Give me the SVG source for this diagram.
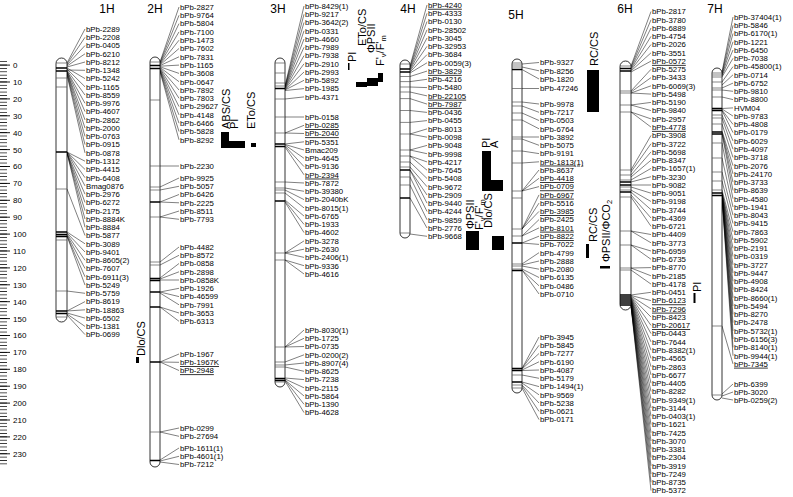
<svg xmlns="http://www.w3.org/2000/svg" width="793" height="497" viewBox="0 0 793 497">
<style>
.lb{font-family:"Liberation Sans",Arial,sans-serif;font-size:7.8px;fill:#000}
.ul{text-decoration:underline}
.ttl{font-family:"Liberation Sans",Arial,sans-serif;font-size:12px;text-anchor:middle}
.ax{font-family:"Liberation Sans",Arial,sans-serif;font-size:8px}
.q{font-family:"Liberation Sans",Arial,sans-serif;font-size:11px}
.sb{font-size:7.5px}
.chr{fill:#fff;stroke:#000;stroke-width:0.8}
.bd{fill:none;stroke:#555;stroke-width:0.7}
.bk{fill:none;stroke:#000;stroke-width:1.6}
.cn{fill:none;stroke:#000;stroke-width:0.5}
.qb{fill:#000}
</style>
<defs>
<pattern id="tkm" patternUnits="userSpaceOnUse" x="0" y="64.6" width="12" height="3.38"><rect x="0" y="0" width="7" height="0.7" fill="#000"/></pattern>
<pattern id="tkM" patternUnits="userSpaceOnUse" x="0" y="64.6" width="12" height="16.9"><rect x="0" y="0" width="10" height="0.9" fill="#000"/></pattern>
</defs>
<rect width="793" height="497" fill="#fff"/>
<g id="axis">
<rect x="0" y="61" width="7" height="404" fill="url(#tkm)"/>
<rect x="0" y="64" width="10" height="400" fill="url(#tkM)"/>
<text class="ax" x="13" y="68">0</text><text class="ax" x="13" y="84.9">10</text><text class="ax" x="13" y="101.8">20</text><text class="ax" x="13" y="118.7">30</text><text class="ax" x="13" y="135.6">40</text><text class="ax" x="13" y="152.5">50</text><text class="ax" x="13" y="169.4">60</text><text class="ax" x="13" y="186.3">70</text><text class="ax" x="13" y="203.2">80</text><text class="ax" x="13" y="220.1">90</text><text class="ax" x="13" y="237">100</text><text class="ax" x="13" y="253.9">110</text><text class="ax" x="13" y="270.8">120</text><text class="ax" x="13" y="287.7">130</text><text class="ax" x="13" y="304.6">140</text><text class="ax" x="13" y="321.5">150</text><text class="ax" x="13" y="338.4">160</text><text class="ax" x="13" y="355.3">170</text><text class="ax" x="13" y="372.2">180</text><text class="ax" x="13" y="389.1">190</text><text class="ax" x="13" y="406">200</text><text class="ax" x="13" y="422.9">210</text><text class="ax" x="13" y="439.8">220</text><text class="ax" x="13" y="456.7">230</text>
</g>
<g id="connectors">
<path class="cn" d="M67 63L85 29M67 64L85 37.3M67 65L85 45.5M67 66L85 53.8M67 67L85 62M67 70L85 70.3M67 68L85 78.6M67 69L85 86.8M67 70L85 95.1M67 71L85 103.3M67 71L85 111.6M67 72L85 119.9M67 72L85 128.1M67 73L85 136.4M67 74L85 144.6M67 75L85 152.9M67 152L85 161.2M67 152L85 169.4M67 152L85 177.7M67 152L85 185.9M67 153L85 194.2M67 153L85 202.5M67 153L85 210.7M67 153L85 219M67 153L85 227.2M67 189L85 235.5M67 232L85 243.8M67 233L85 252M67 234L85 260.3M67 235L85 268.5M67 236L85 276.8M67 236L85 285.1M67 291L85 293.3M67 311L85 301.6M67 311L85 309.8M67 313L85 318.1M67 314L85 326.4M67 315L85 334.6"/>
<path class="cn" d="M160 62L179 7M160 62.6L179 15.3M160 63.2L179 23.6M160 63.8L179 31.9M160 64.4L179 40.2M160 65L179 48.5M160 65.6L179 56.8M160 66.2L179 65.1M160 66.8L179 73.4M160 67.4L179 81.7M160 68L179 90M160 68.6L179 98.3M160 69.2L179 106.6M160 69.8L179 114.9M160 70.4L179 123.2M160 71L179 131.5M160 71.6L179 139.8M160 166L179 166M160 187L179 178M160 190L179 186.3M160 202L179 194.5M160 202L179 202.8M160 217L179 211M160 217L179 219.3M160 262L179 247M160 265L179 255.3M160 278L179 263.5M160 279L179 271.8M160 280L179 280M160 292L179 288.3M160 292L179 296.6M160 293L179 304.8M160 307L179 313M160 307L179 321.3M160 362L179 354M160 362L179 362.3M160 362L179 370.5M160 432L179 428M160 432L179 436.3M160 460L179 448M160 461L179 456.3M160 462L179 464.5"/>
<path class="cn" d="M285 86L304 6M285 86.5L304 14.3M285 87L304 22.5M285 87.5L304 30.8M285 88L304 39M285 88.5L304 47.3M285 89L304 55.6M285 89.5L304 63.8M285 90L304 72M285 90L304 80.3M285 90.5L304 88.6M285 99L304 96.9M285 117L304 117M285 133L304 125.3M285 133L304 133.5M285 144L304 141.8M285 144.5L304 150M285 145L304 158.3M285 146L304 166.6M285 147L304 174.8M285 182L304 183M285 188L304 191.3M285 190L304 199.6M285 193L304 207.9M285 200L304 216.1M285 201L304 224.4M285 202L304 232.6M285 253L304 240.9M285 253L304 249.2M285 253L304 257.4M285 260L304 265.7M285 260L304 274M285 347L304 330M285 347L304 338.3M285 347L304 346.5M285 362L304 354.8M285 365L304 363M285 367L304 371.3M285 378L304 379.6M285 379L304 387.8M285 380L304 396M285 380L304 404.3M285 381L304 412.6"/>
<path class="cn" d="M410 66L427 5M410 67L427 13.3M410 68L427 21.5M410 69L427 29.8M410 70L427 38M410 71L427 46.3M410 72L427 54.6M410 73L427 62.8M410 76.5L427 71.1M410 81.6L427 79.3M410 87L427 87.6M410 92L427 95.9M410 98.6L427 104.1M410 110.5L427 112.4M410 122.4L427 120.6M410 134L427 128.9M410 134L427 137.2M410 150L427 145.4M410 150L427 153.7M410 156L427 161.9M410 156L427 170.2M410 162L427 178.5M410 167L427 186.7M410 170L427 195M410 170L427 203.2M410 177L427 211.5M410 185L427 219.8M410 198L427 228M410 234L427 236.3"/>
<path class="cn" d="M522 64L539 62.5M522 67L539 70.8M522 69.5L539 79M522 88.5L539 88.5M522 102L539 104M522 106L539 112.3M522 113L539 120.5M522 120L539 128.8M522 137L539 137M522 139L539 145.3M522 151L539 153.6M522 163L539 161.8M522 191L539 170M522 191L539 178.3M522 191L539 186.6M522 229L539 194.9M522 229L539 203.1M522 229L539 211.4M522 236L539 219.6M522 236L539 227.9M522 243L539 236.2M522 243L539 244.4M522 264L539 252.7M522 265L539 261M522 266L539 269.2M522 269L539 277.5M522 270L539 285.8M522 270L539 294M522 368.5L539 337M522 368.5L539 345.3M522 369L539 353.5M522 370L539 361.8M522 370.5L539 370M522 375L539 378.3M522 382L539 386.6M522 383L539 394.8M522 385L539 403M522 386L539 411.4M522 388L539 419.6"/>
<path class="cn" d="M631 66L651 11.5M631 67L651 19.8M631 68L651 28M631 69L651 36.3M631 70L651 44.5M631 71L651 52.8M631 72L651 61.1M631 91L651 69.3M631 92L651 77.6M631 93L651 85.8M631 93L651 94.1M631 105L651 102.4M631 105L651 110.6M631 112L651 118.9M631 112L651 127.1M631 170L651 135.4M631 172L651 143.7M631 175L651 151.9M631 177L651 160.2M631 180L651 168.4M631 182L651 176.7M631 185L651 185M631 187L651 193.2M631 190L651 201.5M631 192L651 209.7M631 195L651 218M631 197L651 226.3M631 231L651 234.5M631 231L651 242.8M631 245L651 251M631 245L651 259.3M631 268L651 267.6M631 268L651 275.8M631 270L651 284.1M631 295L651 292.3M631 295.5L651 300.6M631 296L651 308.9M631 296.5L651 317.1M631 297L651 325.4M631 297.5L651 333.6M631 298L651 341.9M631 298.5L651 350.2M631 299L651 358.4M631 299.5L651 366.7M631 300L651 374.9M631 300.5L651 383.2M631 301L651 391.5M631 301.5L651 399.7M631 302L651 408M631 302.5L651 416.2M631 303L651 424.5M631 303.5L651 432.8M631 304L651 441M631 304.5L651 449.3M631 305L651 457.5M631 305L651 465.8M631 305.5L651 474.1M631 305.5L651 482.3M631 306L651 490.6"/>
<path class="cn" d="M722 72L733 17M722 73L733 25.3M722 74L733 33.5M722 75L733 41.8M722 76L733 50M722 77L733 58.3M722 82L733 66.6M722 85L733 74.8M722 88L733 83.1M722 90L733 91.3M722 97L733 99.6M722 108.5L733 107.9M722 109L733 116.1M722 110L733 124.4M722 110.5L733 132.6M722 115L733 140.9M722 118L733 149.2M722 124L733 157.4M722 131L733 165.7M722 132L733 173.9M722 133L733 182.2M722 134L733 190.5M722 143L733 198.7M722 158L733 207M722 172L733 215.2M722 181L733 223.5M722 190L733 231.8M722 192L733 240M722 192.5L733 248.3M722 193L733 256.5M722 193.5L733 264.8M722 194L733 273.1M722 194.5L733 281.3M722 195L733 289.6M722 195.5L733 297.8M722 196L733 306.1M722 196L733 314.4M722 196.5L733 322.6M722 196.5L733 330.9M722 197L733 339.1M722 197L733 347.4M722 197.5L733 355.7M722 326L733 363.9M722 394L733 384M722 396L733 392M722 398L733 400"/>
</g>
<g id="chr1H">
<text class="ttl" x="107" y="12.5">1H</text>
<rect class="chr" x="56" y="58" width="11" height="264" rx="5.5" ry="5.5"/>
<path class="bd" d="M56 63h11M56 78h11M56 87h11M56 189h11M56 240h11M56 291h11M56 317h11"/>
<path class="bk" d="M56 68h11M56 71h11M56 152h11M56 232h11M56 234.5h11M56 236.5h11M56 311h11M56 313.5h11"/>
<text class="lb"><tspan x="86" y="31.8">bPb-2289</tspan><tspan x="86" y="40.1">bPb-2208</tspan><tspan x="86" y="48.3">bPb-0405</tspan><tspan x="86" y="56.6">bPb-6210</tspan><tspan x="86" y="64.8">bPb-8212</tspan><tspan x="86" y="73.1">bPb-1348</tspan><tspan x="86" y="81.4">bPb-5242</tspan><tspan x="86" y="89.6">bPb-1165</tspan><tspan x="86" y="97.9">bPb-8559</tspan><tspan x="86" y="106.1">bPb-9976</tspan><tspan x="86" y="114.4">bPb-4607</tspan><tspan x="86" y="122.7">bPb-2862</tspan><tspan x="86" y="130.9">bPb-2000</tspan><tspan x="86" y="139.2">bPb-0763</tspan><tspan x="86" y="147.4">bPb-0915</tspan><tspan x="86" y="155.7">bPb-0878</tspan><tspan x="86" y="164">bPb-1312</tspan><tspan x="86" y="172.2">bPb-4415</tspan><tspan x="86" y="180.5">bPb-6408</tspan><tspan x="86" y="188.7">Bmag0876</tspan><tspan x="86" y="197">bPb-2976</tspan><tspan x="86" y="205.3">bPb-6272</tspan><tspan x="86" y="213.5">bPb-2175</tspan><tspan x="86" y="221.8">bPb-8884K</tspan><tspan x="86" y="230">bPb-8884</tspan><tspan x="86" y="238.3">bPb-5877</tspan><tspan x="86" y="246.6">bPb-3089</tspan><tspan x="86" y="254.8">bPb-9401</tspan><tspan x="86" y="263.1">bPb-8605(2)</tspan><tspan x="86" y="271.3">bPb-7607</tspan><tspan x="86" y="279.6">bPb-6911(3)</tspan><tspan x="86" y="287.9">bPb-5249</tspan><tspan x="86" y="296.1">bPb-5759</tspan><tspan x="86" y="304.4">bPb-8619</tspan><tspan x="86" y="312.6">bPb-18863</tspan><tspan x="86" y="320.9">bPb-6502</tspan><tspan x="86" y="329.2">bPb-1381</tspan><tspan x="86" y="337.4">bPb-0699</tspan></text>
</g>
<g id="chr2H">
<text class="ttl" x="155" y="12.5">2H</text>
<rect class="chr" x="150" y="57" width="10" height="410" rx="5" ry="5"/>
<path class="bd" d="M150 62h10M150 100h10M150 166h10M150 187h10M150 190h10M150 217h10M150 262h10M150 265h10M150 432h10"/>
<path class="bk" d="M150 65.5h10M150 68.5h10M150 202h10M150 278.5h10M150 280.5h10M150 292h10M150 307h10M150 362h10M150 460.5h10"/>
<text class="lb"><tspan x="180" y="9.8">bPb-2827</tspan><tspan x="180" y="18.1">bPb-9764</tspan><tspan x="180" y="26.4">bPb-5804</tspan><tspan x="180" y="34.7">bPb-7100</tspan><tspan x="180" y="43">bPb-1473</tspan><tspan x="180" y="51.3">bPb-7602</tspan><tspan x="180" y="59.6">bPb-7831</tspan><tspan x="180" y="67.9">bPb-1165</tspan><tspan x="180" y="76.2">bPb-3608</tspan><tspan x="180" y="84.5">bPb-0647</tspan><tspan x="180" y="92.8">bPb-7892</tspan><tspan x="180" y="101.1">bPb-7803</tspan><tspan x="180" y="109.4">bPb-29627</tspan><tspan x="180" y="117.7">bPb-4148</tspan><tspan x="180" y="126">bPb-6466</tspan><tspan x="180" y="134.3">bPb-5828</tspan><tspan x="180" y="142.6">bPb-8292</tspan><tspan x="180" y="168.8">bPb-2230</tspan><tspan x="180" y="180.8">bPb-9925</tspan><tspan x="180" y="189.1">bPb-5057</tspan><tspan x="180" y="197.3">bPb-6426</tspan><tspan x="180" y="205.6">bPb-2225</tspan><tspan x="180" y="213.8">bPb-8511</tspan><tspan x="180" y="222.1">bPb-7793</tspan><tspan x="180" y="249.8">bPb-4482</tspan><tspan x="180" y="258.1">bPb-8572</tspan><tspan x="180" y="266.3">bPb-0858</tspan><tspan x="180" y="274.6">bPb-2898</tspan><tspan x="180" y="282.8">bPb-0858K</tspan><tspan x="180" y="291.1">bPb-1926</tspan><tspan x="180" y="299.4">bPb-46599</tspan><tspan x="180" y="307.6">bPb-7991</tspan><tspan x="180" y="315.8">bPb-3653</tspan><tspan x="180" y="324.1">bPb-6313</tspan><tspan x="180" y="356.8">bPb-1967</tspan><tspan x="180" y="365.1" class="ul">bPb-1967K</tspan><tspan x="180" y="373.3" class="ul">bPb-2948</tspan><tspan x="180" y="430.8">bPb-0299</tspan><tspan x="180" y="439.1">bPb-27694</tspan><tspan x="180" y="450.8">bPb-1611(1)</tspan><tspan x="180" y="459.1">bPb-4601(1)</tspan><tspan x="180" y="467.3">bPb-7212</tspan></text>
</g>
<g id="chr3H">
<text class="ttl" x="278" y="12.5">3H</text>
<rect class="chr" x="275" y="58" width="10" height="329" rx="5" ry="5"/>
<path class="bd" d="M275 63h10M275 73h10M275 83h10M275 86h10M275 99h10M275 117h10M275 133h10M275 182h10M275 188h10M275 190h10M275 193h10M275 253h10M275 260h10M275 347h10M275 362h10M275 365h10M275 367h10M275 382h10"/>
<path class="bk" d="M275 88.5h10M275 144h10M275 146.5h10M275 201h10M275 378.5h10M275 380.5h10"/>
<text class="lb"><tspan x="305" y="8.8">bPb-8429(1)</tspan><tspan x="305" y="17.1">bPb-9217</tspan><tspan x="305" y="25.3">bPb-3642(2)</tspan><tspan x="305" y="33.6">bPb-0331</tspan><tspan x="305" y="41.8">bPb-4660</tspan><tspan x="305" y="50.1">bPb-7989</tspan><tspan x="305" y="58.4">bPb-7938</tspan><tspan x="305" y="66.6">bPb-2910</tspan><tspan x="305" y="74.8">bPb-2993</tspan><tspan x="305" y="83.1">bPb-5892</tspan><tspan x="305" y="91.4">bPb-1985</tspan><tspan x="305" y="99.7">bPb-4371</tspan><tspan x="305" y="119.8">bPb-0158</tspan><tspan x="305" y="128.1" class="ul">bPb-0285</tspan><tspan x="305" y="136.3" class="ul">bPb-2040</tspan><tspan x="305" y="144.6">bPb-5351</tspan><tspan x="305" y="152.8">Bmac209</tspan><tspan x="305" y="161.1">bPb-4645</tspan><tspan x="305" y="169.4">bPb-9136</tspan><tspan x="305" y="177.6" class="ul">bPb-2394</tspan><tspan x="305" y="185.8">bPb-7872</tspan><tspan x="305" y="194.1">bPb-39380</tspan><tspan x="305" y="202.4">bPb-2040bK</tspan><tspan x="305" y="210.7">bPb-8015(1)</tspan><tspan x="305" y="218.9">bPb-6765</tspan><tspan x="305" y="227.2">bPb-1933</tspan><tspan x="305" y="235.4">bPb-4602</tspan><tspan x="305" y="243.7">bPb-3278</tspan><tspan x="305" y="252">bPb-2630</tspan><tspan x="305" y="260.2">bPb-2406(1)</tspan><tspan x="305" y="268.5">bPb-9336</tspan><tspan x="305" y="276.8">bPb-4616</tspan><tspan x="305" y="332.8">bPb-8030(1)</tspan><tspan x="305" y="341.1">bPb-1725</tspan><tspan x="305" y="349.3">bPb-0735</tspan><tspan x="305" y="357.6">bPb-0200(2)</tspan><tspan x="305" y="365.8">bPb-8907(4)</tspan><tspan x="305" y="374.1">bPb-8625</tspan><tspan x="305" y="382.4">bPb-7238</tspan><tspan x="305" y="390.6">bPb-2115</tspan><tspan x="305" y="398.8">bPb-5864</tspan><tspan x="305" y="407.1">bPb-1390</tspan><tspan x="305" y="415.4">bPb-4628</tspan></text>
</g>
<g id="chr4H">
<text class="ttl" x="408" y="12.5">4H</text>
<rect class="chr" x="400" y="60" width="10" height="178" rx="5" ry="5"/>
<path class="bd" d="M400 64h10M400 76.5h10M400 81.6h10M400 87h10M400 92h10M400 98.6h10M400 110.5h10M400 122.4h10M400 134h10M400 150h10M400 156h10M400 162h10M400 167h10M400 177h10M400 185h10M400 233h10"/>
<path class="bk" d="M400 69h10M400 72h10M400 170h10M400 198h10"/>
<text class="lb"><tspan x="428" y="7.8" class="ul">bPb-4240</tspan><tspan x="428" y="16.1">bPb-4333</tspan><tspan x="428" y="24.3">bPb-0130</tspan><tspan x="428" y="32.6">bPb-28502</tspan><tspan x="428" y="40.8">bPb-3045</tspan><tspan x="428" y="49.1">bPb-32953</tspan><tspan x="428" y="57.4">bPb-3684</tspan><tspan x="428" y="65.6">bPb-0059(3)</tspan><tspan x="428" y="73.9" class="ul">bPb-3829</tspan><tspan x="428" y="82.1">bPb-4216</tspan><tspan x="428" y="90.4">bPb-5480</tspan><tspan x="428" y="98.7" class="ul">bPb-22105</tspan><tspan x="428" y="106.9" class="ul">bPb-7987</tspan><tspan x="428" y="115.2">bPb-0436</tspan><tspan x="428" y="123.4">bPb-0455</tspan><tspan x="428" y="131.7">bPb-8013</tspan><tspan x="428" y="140">bPb-0098</tspan><tspan x="428" y="148.2">bPb-9048</tspan><tspan x="428" y="156.5">bPb-9998</tspan><tspan x="428" y="164.7">bPb-4217</tspan><tspan x="428" y="173">bPb-7645</tspan><tspan x="428" y="181.3">bPb-5408</tspan><tspan x="428" y="189.5">bPb-9672</tspan><tspan x="428" y="197.8">bPb-2909</tspan><tspan x="428" y="206">bPb-9440</tspan><tspan x="428" y="214.3">bPb-4244</tspan><tspan x="428" y="222.6">bPb-9859</tspan><tspan x="428" y="230.8">bPb-2776</tspan><tspan x="428" y="239.1">bPb-9668</tspan></text>
</g>
<g id="chr5H">
<text class="ttl" x="516" y="18.5">5H</text>
<rect class="chr" x="512" y="59" width="10" height="334" rx="5" ry="5"/>
<path class="bd" d="M512 63h10M512 65h10M512 67h10M512 88.5h10M512 102h10M512 106h10M512 113h10M512 120h10M512 137h10M512 139h10M512 151h10M512 163h10M512 191h10M512 198h10M512 229h10M512 236h10M512 264h10M512 266h10M512 269h10M512 375h10M512 385h10M512 388h10"/>
<path class="bk" d="M512 69.5h10M512 243h10M512 270.5h10M512 368.5h10M512 370.5h10M512 382h10"/>
<text class="lb"><tspan x="540" y="65.3">bPb-9327</tspan><tspan x="540" y="73.6">bPb-8256</tspan><tspan x="540" y="81.8">bPb-1820</tspan><tspan x="540" y="91.3">bPb-47246</tspan><tspan x="540" y="106.8">bPb-9978</tspan><tspan x="540" y="115.1">bPb-7217</tspan><tspan x="540" y="123.3">bPb-0503</tspan><tspan x="540" y="131.6">bPb-6764</tspan><tspan x="540" y="139.8">bPb-3892</tspan><tspan x="540" y="148.1">bPb-5075</tspan><tspan x="540" y="156.4">bPb-9191</tspan><tspan x="540" y="164.6" class="ul">bPb-1813(1)</tspan><tspan x="540" y="172.8">bPb-8637</tspan><tspan x="540" y="181.1" class="ul">bPb-4418</tspan><tspan x="540" y="189.4" class="ul">bPb-0709</tspan><tspan x="540" y="197.7" class="ul">bPb-6967</tspan><tspan x="540" y="205.9">bPb-5516</tspan><tspan x="540" y="214.2" class="ul">bPb-3985</tspan><tspan x="540" y="222.4">bPb-2425</tspan><tspan x="540" y="230.7" class="ul">bPb-8101</tspan><tspan x="540" y="239" class="ul">bPb-8822</tspan><tspan x="540" y="247.2">bPb-7022</tspan><tspan x="540" y="255.5">bPb-4799</tspan><tspan x="540" y="263.8">bPb-2888</tspan><tspan x="540" y="272">bPb-2080</tspan><tspan x="540" y="280.3">bPb-6135</tspan><tspan x="540" y="288.6">bPb-0486</tspan><tspan x="540" y="296.8">bPb-0710</tspan><tspan x="540" y="339.8">bPb-3945</tspan><tspan x="540" y="348.1">bPb-5845</tspan><tspan x="540" y="356.3">bPb-7277</tspan><tspan x="540" y="364.6">bPb-6190</tspan><tspan x="540" y="372.8">bPb-4087</tspan><tspan x="540" y="381.1">bPb-5179</tspan><tspan x="540" y="389.4">bPb-1494(1)</tspan><tspan x="540" y="397.6">bPb-9569</tspan><tspan x="540" y="405.8">bPb-5238</tspan><tspan x="540" y="414.2">bPb-0621</tspan><tspan x="540" y="422.4">bPb-0171</tspan></text>
</g>
<g id="chr6H">
<text class="ttl" x="625" y="12.5">6H</text>
<rect class="chr" x="620" y="61" width="11" height="249" rx="5.5" ry="5.5"/>
<path class="bd" d="M620 66h11M620 91h11M620 93h11M620 105h11M620 112h11M620 170h11M620 175h11M620 180h11M620 187h11M620 190h11M620 197h11M620 231h11M620 245h11M620 268h11M620 270h11"/>
<path class="bk" d="M620 68.5h11M620 71h11M620 182h11M620 185h11M620 192h11M620 295h11M620 297h11M620 299h11M620 301h11M620 303h11M620 305h11"/>
<text class="lb"><tspan x="652" y="14.3">bPb-2817</tspan><tspan x="652" y="22.6">bPb-3780</tspan><tspan x="652" y="30.8">bPb-6889</tspan><tspan x="652" y="39.1">bPb-4754</tspan><tspan x="652" y="47.3">bPb-2026</tspan><tspan x="652" y="55.6">bPb-3551</tspan><tspan x="652" y="63.9" class="ul">bPb-0572</tspan><tspan x="652" y="72.1">bPb-5275</tspan><tspan x="652" y="80.4">bPb-3433</tspan><tspan x="652" y="88.6">bPb-6069(3)</tspan><tspan x="652" y="96.9">bPb-5498</tspan><tspan x="652" y="105.2">bPb-5190</tspan><tspan x="652" y="113.4">bPb-9840</tspan><tspan x="652" y="121.7">bPb-2957</tspan><tspan x="652" y="129.9" class="ul">bPb-4778</tspan><tspan x="652" y="138.2">bPb-3908</tspan><tspan x="652" y="146.5">bPb-3722</tspan><tspan x="652" y="154.7">bPb-5698</tspan><tspan x="652" y="163">bPb-8347</tspan><tspan x="652" y="171.2">bPb-1657(1)</tspan><tspan x="652" y="179.5">bPb-3230</tspan><tspan x="652" y="187.8">bPb-9082</tspan><tspan x="652" y="196">bPb-9051</tspan><tspan x="652" y="204.3">bPb-9198</tspan><tspan x="652" y="212.5">bPb-3744</tspan><tspan x="652" y="220.8">bPb-4369</tspan><tspan x="652" y="229.1">bPb-6721</tspan><tspan x="652" y="237.3">bPb-4409</tspan><tspan x="652" y="245.6">bPb-3773</tspan><tspan x="652" y="253.8">bPb-6959</tspan><tspan x="652" y="262.1">bPb-6735</tspan><tspan x="652" y="270.4">bPb-8770</tspan><tspan x="652" y="278.6">bPb-2185</tspan><tspan x="652" y="286.9">bPb-4178</tspan><tspan x="652" y="295.1">bPb-0451</tspan><tspan x="652" y="303.4" class="ul">bPb-6123</tspan><tspan x="652" y="311.7" class="ul">bPb-7296</tspan><tspan x="652" y="319.9">bPb-8423</tspan><tspan x="652" y="328.2" class="ul">bPb-20617</tspan><tspan x="652" y="336.4">bPb-0443</tspan><tspan x="652" y="344.7">bPb-7644</tspan><tspan x="652" y="353">bPb-8382(1)</tspan><tspan x="652" y="361.2">bPb-4565</tspan><tspan x="652" y="369.5">bPb-2863</tspan><tspan x="652" y="377.7">bPb-6677</tspan><tspan x="652" y="386">bPb-4405</tspan><tspan x="652" y="394.3">bPb-8282</tspan><tspan x="652" y="402.5">bPb-9349(1)</tspan><tspan x="652" y="410.8">bPb-3144</tspan><tspan x="652" y="419">bPb-0403(1)</tspan><tspan x="652" y="427.3">bPb-1621</tspan><tspan x="652" y="435.6">bPb-7425</tspan><tspan x="652" y="443.8">bPb-3070</tspan><tspan x="652" y="452.1">bPb-3381</tspan><tspan x="652" y="460.3">bPb-2304</tspan><tspan x="652" y="468.6">bPb-3919</tspan><tspan x="652" y="476.9">bPb-7249</tspan><tspan x="652" y="485.1">bPb-8735</tspan><tspan x="652" y="493.4">bPb-5372</tspan></text>
</g>
<g id="chr7H">
<text class="ttl" x="715" y="12.5">7H</text>
<rect class="chr" x="712" y="68" width="10" height="332" rx="5" ry="5"/>
<path class="bd" d="M712 73h10M712 75h10M712 77h10M712 82h10M712 88h10M712 90h10M712 97h10M712 115h10M712 118h10M712 124h10M712 143h10M712 158h10M712 172h10M712 181h10M712 190h10M712 326h10M712 395h10"/>
<path class="bk" d="M712 108.5h10M712 110.5h10M712 132h10M712 134h10M712 193h10M712 195.5h10"/>
<text class="lb"><tspan x="734" y="19.8">bPb-37404(1)</tspan><tspan x="734" y="28.1">bPb-5846</tspan><tspan x="734" y="36.3">bPb-6170(1)</tspan><tspan x="734" y="44.6">bPb-1221</tspan><tspan x="734" y="52.8">bPb-6450</tspan><tspan x="734" y="61.1">bPb-7038</tspan><tspan x="734" y="69.4">bPb-45800(1)</tspan><tspan x="734" y="77.6">bPb-0714</tspan><tspan x="734" y="85.9">bPb-6752</tspan><tspan x="734" y="94.1">bPb-9810</tspan><tspan x="734" y="102.4">bPb-8800</tspan><tspan x="734" y="110.7">HVM04</tspan><tspan x="734" y="118.9">bPb-9783</tspan><tspan x="734" y="127.2">bPb-4808</tspan><tspan x="734" y="135.4">bPb-0179</tspan><tspan x="734" y="143.7">bPb-6029</tspan><tspan x="734" y="152">bPb-4097</tspan><tspan x="734" y="160.2">bPb-3718</tspan><tspan x="734" y="168.5">bPb-2076</tspan><tspan x="734" y="176.7">bPb-24170</tspan><tspan x="734" y="185">bPb-3733</tspan><tspan x="734" y="193.3">bPb-8639</tspan><tspan x="734" y="201.5">bPb-4580</tspan><tspan x="734" y="209.8">bPb-1941</tspan><tspan x="734" y="218">bPb-8043</tspan><tspan x="734" y="226.3">bPb-9415</tspan><tspan x="734" y="234.6">bPb-7863</tspan><tspan x="734" y="242.8">bPb-5902</tspan><tspan x="734" y="251.1">bPb-2191</tspan><tspan x="734" y="259.3">bPb-0319</tspan><tspan x="734" y="267.6">bPb-3727</tspan><tspan x="734" y="275.9">bPb-9447</tspan><tspan x="734" y="284.1">bPb-4908</tspan><tspan x="734" y="292.4">bPb-8424</tspan><tspan x="734" y="300.6">bPb-8660(1)</tspan><tspan x="734" y="308.9">bPb-5494</tspan><tspan x="734" y="317.2">bPb-8270</tspan><tspan x="734" y="325.4">bPb-2478</tspan><tspan x="734" y="333.7">bPb-5732(1)</tspan><tspan x="734" y="341.9">bPb-6156(3)</tspan><tspan x="734" y="350.2">bPb-8140(1)</tspan><tspan x="734" y="358.5">bPb-9944(1)</tspan><tspan x="734" y="366.7" class="ul">bPb-7345</tspan><tspan x="734" y="386.8">bPb-6399</tspan><tspan x="734" y="394.8">bPb-3020</tspan><tspan x="734" y="402.8">bPb-0259(2)</tspan></text>
</g>
<g id="qtl2H">
<text class="q" transform="translate(230,129) rotate(-90)">ABS/CS</text>
<text class="q" transform="translate(238,129) rotate(-90)">PI</text>
<text class="q" transform="translate(255,129) rotate(-90)">ETo/CS</text>
<rect class="qb" x="221" y="132" width="8" height="16"/>
<rect class="qb" x="229" y="141" width="16" height="7"/>
<rect class="qb" x="251" y="143" width="5" height="4"/>
<text class="q" transform="translate(145,356) rotate(-90)">Dlo/CS</text>
<rect class="qb" x="136" y="357" width="3" height="6"/>
</g>
<g id="qtl3H">
<text class="q" transform="translate(356,62) rotate(-90)">PI</text>
<rect class="qb" x="348" y="63" width="1.5" height="7"/>
<text class="q" transform="translate(366,46) rotate(-90)">ETo/CS</text>
<text class="q" transform="translate(375,53) rotate(-90)">ΦPSII</text>
<text class="q" transform="translate(384,66) rotate(-90)">F'<tspan class="sb" dy="2">v</tspan><tspan dy="-2">/F'</tspan><tspan class="sb" dy="2">m</tspan></text>
<rect class="qb" x="356" y="82" width="11" height="5"/>
<rect class="qb" x="367" y="78" width="11" height="8"/>
<rect class="qb" x="378" y="73" width="5" height="9"/>
</g>
<g id="qtl4H">
<text class="q" transform="translate(490,148) rotate(-90)">PI</text>
<text class="q" transform="translate(498,148) rotate(-90)">A</text>
<rect class="qb" x="482" y="151" width="9" height="40"/>
<rect class="qb" x="491" y="180" width="12" height="11"/>
<text class="q" transform="translate(474,229) rotate(-90)">ΦPSII</text>
<text class="q" transform="translate(483,230) rotate(-90)">F'<tspan class="sb" dy="2">v</tspan><tspan dy="-2">/F'</tspan><tspan class="sb" dy="2">m</tspan></text>
<text class="q" transform="translate(492,228) rotate(-90)">Dlo/CS</text>
<rect class="qb" x="466" y="231" width="13" height="19"/>
<rect class="qb" x="492" y="236" width="12" height="14"/>
</g>
<g id="qtl5H">
<text class="q" transform="translate(598,66) rotate(-90)">RC/CS</text>
<rect class="qb" x="587" y="70" width="12" height="42"/>
<text class="q" transform="translate(597,242) rotate(-90)">RC/CS</text>
<rect class="qb" x="586" y="244" width="3" height="14"/>
<text class="q" transform="translate(610,262) rotate(-90)">ΦPSII/ΦCO<tspan class="sb" dy="2">2</tspan></text>
<rect class="qb" x="600" y="266" width="10" height="2.5"/>
</g>
<g id="qtl6H">
<text class="q" transform="translate(701,292) rotate(-90)">PI</text>
<rect class="qb" x="693.5" y="293" width="2" height="10"/>
</g>
</svg>
